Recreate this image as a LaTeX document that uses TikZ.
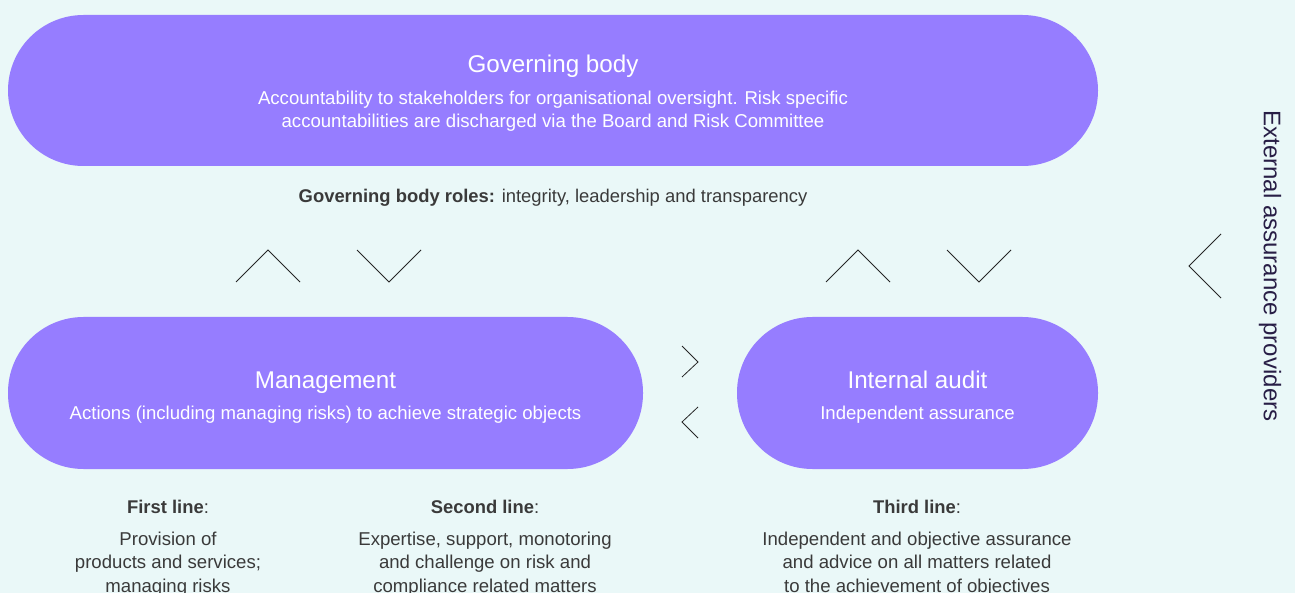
\documentclass[tikz,border=0pt]{standalone}
\usepackage{fontspec}
\setmainfont{Liberation Sans}
\usetikzlibrary{positioning}

\definecolor{bgcyan}{RGB}{234,248,248}
\definecolor{pillviolet}{RGB}{150,125,255}
\definecolor{textgrey}{RGB}{58,58,58}
\definecolor{darkink}{RGB}{40,30,70}

\tikzset{
  pill/.style={fill=pillviolet, rounded corners=75.5pt, inner sep=0pt, minimum height=151pt},
  pilltitle/.style={text=white, font=\fontsize{24.2}{28}\selectfont, anchor=base, inner sep=0pt},
  pilltext/.style={text=white, font=\fontsize{18.6}{23}\selectfont, align=center, anchor=base, inner sep=0pt},
  linehead/.style={text=textgrey, font=\fontsize{18.4}{22}\selectfont, anchor=base, inner sep=0pt},
  linetext/.style={text=textgrey, font=\fontsize{18.6}{23.5}\selectfont, align=center, anchor=base, inner sep=0pt},
  chevron/.style={draw=black!85, line width=0.8pt},
}

\begin{document}
\begin{tikzpicture}[x=1pt,y=-1pt]
\fill[bgcyan] (0,0) rectangle (1295,593);
\useasboundingbox (0,0) rectangle (1295,593);

% the three bodies
\node[pill, minimum width=1090pt] (gov) at (553,90.5) {};
\node[pill, minimum width=635pt, minimum height=152pt] (mgmt) at (325.5,393) {};
\node[pill, minimum width=361pt, minimum height=152pt] (audit) at (917.5,393) {};

% base of a block of lines is its last line
\node[pilltitle] (govtitle) at (553,73) {Governing body};
\node[pilltext] (govtext) at (553,128) {Accountability to stakeholders for organisational oversight. Risk specific\\accountabilities are discharged via the Board and Risk Committee};
\node[pilltitle] (mgmttitle) at (325.5,388) {Management};
\node[pilltext] (mgmttext) at (325.5,419) {Actions (including managing risks) to achieve strategic objects};
\node[pilltitle] (audittitle) at (917.5,388) {Internal audit};
\node[pilltext] (audittext) at (917.5,419) {Independent assurance};

\node[linehead] (roles) at (553,203) {\textbf{Governing body roles:} integrity, leadership and transparency};

% chevrons between the bodies
\foreach \x in {268,858} \draw[chevron] (\x-32,282) -- (\x,250) -- (\x+32,282);
\foreach \x in {389,979} \draw[chevron] (\x-32,250) -- (\x,282) -- (\x+32,250);
\draw[chevron] (682,346) -- (698,362) -- (682,377);
\draw[chevron] (698,407) -- (682,422) -- (698,438);
\draw[chevron] (1221,234) -- (1189,266) -- (1221,298);

\node[rotate=-90, text=darkink, font=\fontsize{24}{28}\selectfont, inner sep=0pt] (external) at (1270,266) {External assurance providers};

% the three lines
\node[linehead] (first) at (168,513) {\textbf{First line}:};
\node[linetext] (firsttext) at (168,592) {Provision of\\products and services;\\managing risks};
\node[linehead] (second) at (485,513) {\textbf{Second line}:};
\node[linetext] (secondtext) at (485,592) {Expertise, support, monotoring\\and challenge on risk and\\compliance related matters};
\node[linehead] (third) at (917,513) {\textbf{Third line}:};
\node[linetext] (thirdtext) at (917,592) {Independent and objective assurance\\and advice on all matters related\\to the achievement of objectives};
\end{tikzpicture}
\end{document}
